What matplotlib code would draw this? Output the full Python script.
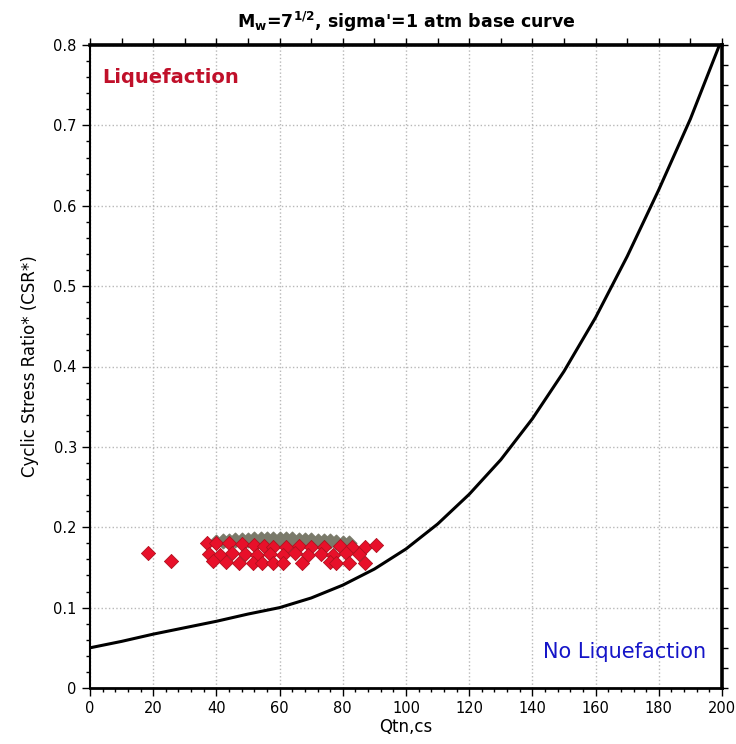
import numpy as np
import matplotlib
matplotlib.use("Agg")
import matplotlib.pyplot as plt
from matplotlib.ticker import MultipleLocator, NullFormatter

# base curve
curve_q = [0, 10, 20, 30, 40, 50, 60, 70, 80, 90, 100, 110, 120, 130, 140,
           150, 160, 170, 180, 190, 200]
curve_csr = [0.050, 0.058, 0.067, 0.075, 0.083, 0.092, 0.100, 0.112, 0.128,
             0.148, 0.173, 0.204, 0.241, 0.284, 0.335, 0.394, 0.461, 0.537,
             0.620, 0.708, 0.808]

# grey points behind the red ones
grey_q = [40, 42, 44, 46, 48, 50, 52, 54, 56, 58, 60, 62, 64, 66, 68, 70, 72,
          74, 76, 78, 80, 82]
grey_csr = [0.182, 0.183, 0.183, 0.184, 0.184, 0.184, 0.185, 0.185, 0.185,
            0.185, 0.185, 0.185, 0.185, 0.184, 0.184, 0.184, 0.183, 0.183,
            0.183, 0.182, 0.181, 0.180]

# red data points
red_q = [18.5, 25.5,
         37, 40, 44, 48, 52, 55, 58, 62, 66, 70, 74, 79, 83, 87, 90.5,
         37.5, 41, 45, 49, 53, 57, 61, 65, 69, 73, 77, 81, 85,
         39, 43, 47, 51.5, 54.5, 58, 61, 67, 76, 78, 82, 87]
red_csr = [0.168, 0.158,
           0.180, 0.180, 0.180, 0.179, 0.178, 0.177, 0.176, 0.176, 0.177, 0.175, 0.176, 0.177, 0.176, 0.176, 0.178,
           0.167, 0.166, 0.168, 0.167, 0.165, 0.167, 0.166, 0.168, 0.165, 0.167, 0.166, 0.168, 0.167,
           0.158, 0.157, 0.156, 0.155, 0.155, 0.156, 0.155, 0.155, 0.157, 0.155, 0.156, 0.155]

fig = plt.figure(figsize=(7.36, 7.44), dpi=100)
ax = fig.add_axes([90 / 736, 56 / 744, 632 / 736, 643 / 744])

ax.plot(curve_q, curve_csr, color='black', linewidth=2.2, zorder=3, clip_on=True)
ax.scatter(grey_q, grey_csr, marker='D', s=55, color='#7a7a6a', zorder=4)
ax.scatter(red_q, red_csr, marker='D', s=52, color='#e8102a', edgecolor='#b0101f',
           linewidth=0.6, zorder=5)

ax.set_xlim(0, 200)
ax.set_ylim(0, 0.8)
ax.xaxis.set_major_locator(MultipleLocator(20))
ax.xaxis.set_minor_locator(MultipleLocator(4))
ax.yaxis.set_major_locator(MultipleLocator(0.1))
ax.yaxis.set_minor_locator(MultipleLocator(0.02))
ax.yaxis.set_major_formatter(plt.FuncFormatter(lambda v, p: '0' if v == 0 else f'{v:.1f}'))

ax.grid(True, which='major', color='#b8b8b8', linestyle=':', linewidth=1)
ax.tick_params(which='major', direction='out', length=6, width=1, labelsize=10.5)
ax.tick_params(which='minor', direction='out', length=3, width=1)

ax.spines['left'].set_linewidth(1.5)
ax.spines['bottom'].set_linewidth(2)
ax.spines['top'].set_linewidth(2.6)
ax.spines['right'].set_linewidth(2.6)

top = ax.secondary_xaxis('top')
top.xaxis.set_major_locator(MultipleLocator(10))
top.xaxis.set_major_formatter(NullFormatter())
top.tick_params(direction='out', length=5, width=1)
top.spines['top'].set_visible(False)

right = ax.secondary_yaxis('right')
right.yaxis.set_major_locator(MultipleLocator(0.025))
right.yaxis.set_major_formatter(NullFormatter())
right.tick_params(direction='out', length=4, width=1)
right.spines['right'].set_visible(False)

ax.set_xlabel('Qtn,cs', fontsize=12, labelpad=1)
ax.set_ylabel('Cyclic Stress Ratio* (CSR*)', fontsize=12, labelpad=10)
ax.set_title(r"$\mathbf{M_w}$=$\mathbf{7^{1/2}}$, sigma'=1 atm base curve",
             fontsize=12.5, fontweight='bold', pad=12)

ax.text(0.02, 0.965, 'Liquefaction', transform=ax.transAxes, fontsize=14,
        fontweight='bold', color='#c0102a', va='top', ha='left')
ax.text(0.975, 0.04, 'No Liquefaction', transform=ax.transAxes, fontsize=15,
        color='#1515c8', va='bottom', ha='right')

fig.savefig('out.png', dpi=100)
